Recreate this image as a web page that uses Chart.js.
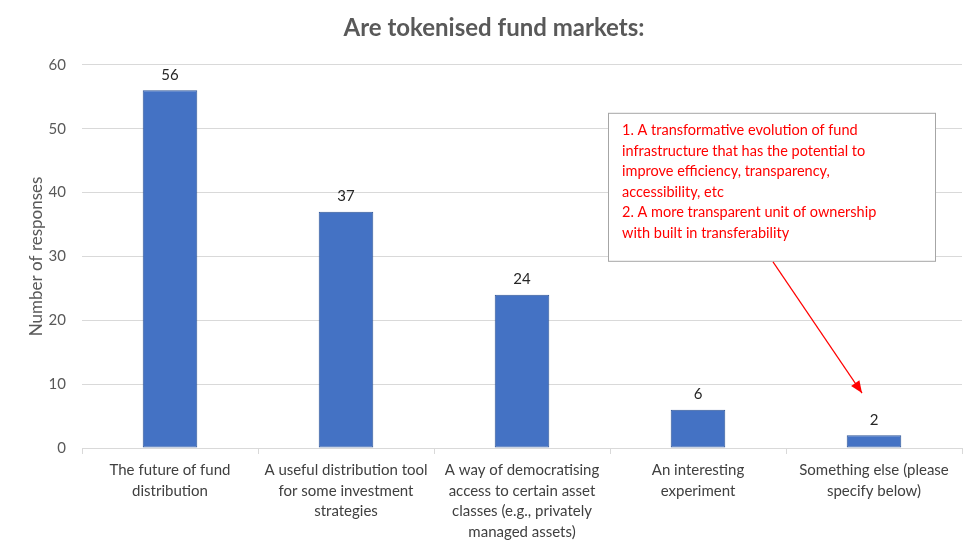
<!DOCTYPE html>
<html>
<head>
<meta charset="utf-8">
<script src="https://cdn.jsdelivr.net/npm/chart.js@4.4.1/dist/chart.umd.min.js"></script>
<style>
  html, body { margin: 0; padding: 0; background: #fff; }
  #wrap { width: 980px; height: 549px; position: relative; }
</style>
</head>
<body>
<div id="wrap"><canvas id="tokenChart"></canvas></div>
<script>
const categories = [
    ['The future of fund', 'distribution'],
    ['A useful distribution tool', 'for some investment', 'strategies'],
    ['A way of democratising', 'access to certain asset', 'classes (e.g., privately', 'managed assets)'],
    ['An interesting', 'experiment'],
    ['Something else (please', 'specify below)']
];
const responses = [56, 37, 24, 6, 2];
const noteLines = [
    '1. A transformative evolution of fund',
    'infrastructure that has the potential to',
    'improve efficiency, transparency,',
    'accessibility, etc',
    '2. A more transparent unit of ownership',
    'with built in transferability'
];

const fontFamily = 'Lato, "Open Sans", sans-serif';
const axisGray = '#595959';

// value labels above bars
const valueLabels = {
    id: 'valueLabels',
    afterDatasetsDraw(chart) {
        const ctx = chart.ctx;
        const meta = chart.getDatasetMeta(0);
        ctx.save();
        ctx.font = '15px ' + fontFamily;
        ctx.fillStyle = '#262626';
        ctx.textAlign = 'center';
        ctx.textBaseline = 'bottom';
        meta.data.forEach((bar, i) => {
            ctx.fillText(responses[i], bar.x, bar.y - 8);
        });
        ctx.restore();
    }
};

// red note box with arrow pointing at the last bar
const noteBox = {
    id: 'noteBox',
    afterDraw(chart) {
        const ctx = chart.ctx;
        const area = chart.chartArea;
        const x = chart.scales.x, y = chart.scales.y;
        const boxL = area.left + 526, boxT = area.top + 48, boxW = 327, boxH = 148;
        ctx.save();
        ctx.fillStyle = '#fff';
        ctx.fillRect(boxL, boxT, boxW, boxH);
        ctx.strokeStyle = '#a6a6a6';
        ctx.lineWidth = 1;
        ctx.strokeRect(boxL + 0.5, boxT + 0.5, boxW, boxH);
        ctx.fillStyle = '#ff0000';
        ctx.font = '14.5px ' + fontFamily;
        ctx.textBaseline = 'middle';
        noteLines.forEach((t, i) => ctx.fillText(t, boxL + 14, boxT + 18 + i * 20.5));

        // arrow
        const sx = boxL + 165, sy = boxT + boxH + 1;
        const ex = x.getPixelForValue(4) - 12, ey = y.getPixelForValue(8.6);
        ctx.strokeStyle = '#ff0000';
        ctx.lineWidth = 1.2;
        ctx.beginPath();
        ctx.moveTo(sx, sy);
        ctx.lineTo(ex, ey);
        ctx.stroke();
        const ang = Math.atan2(ey - sy, ex - sx);
        const hl = 12, hw = 5;
        ctx.fillStyle = '#ff0000';
        ctx.beginPath();
        ctx.moveTo(ex, ey);
        ctx.lineTo(ex - hl * Math.cos(ang) + hw * Math.sin(ang), ey - hl * Math.sin(ang) - hw * Math.cos(ang));
        ctx.lineTo(ex - hl * Math.cos(ang) - hw * Math.sin(ang), ey - hl * Math.sin(ang) + hw * Math.cos(ang));
        ctx.closePath();
        ctx.fill();
        ctx.restore();
    }
};

new Chart(document.getElementById('tokenChart'), {
    type: 'bar',
    data: {
        labels: categories,
        datasets: [{
            data: responses,
            backgroundColor: '#4472c4',
            borderColor: '#2f5597',
            borderWidth: 1,
            borderSkipped: false,
            categoryPercentage: 1,
            barPercentage: 0.31
        }]
    },
    options: {
        responsive: true,
        maintainAspectRatio: false,
        animation: false,
        layout: { padding: { left: 26, right: 18, top: 0, bottom: 0 } },
        plugins: {
            legend: { display: false },
            tooltip: { enabled: false },
            title: {
                display: true,
                text: 'Are tokenised fund markets:',
                color: axisGray,
                font: { family: fontFamily, size: 24, weight: 'bold' },
                padding: { top: 14, bottom: 22 }
            }
        },
        scales: {
            x: {
                grid: { display: true, drawOnChartArea: false, drawTicks: true, tickLength: 6, color: '#d9d9d9', offset: true },
                border: { color: '#d9d9d9' },
                ticks: { color: '#404040', font: { family: fontFamily, size: 15, lineHeight: 1.37 }, maxRotation: 0, autoSkip: false, padding: 6 },
                afterFit(scale) { scale.height = 101; }
            },
            y: {
                min: 0,
                max: 60,
                grid: { color: '#d9d9d9', drawTicks: false },
                border: { display: false },
                ticks: { stepSize: 10, color: axisGray, font: { family: fontFamily, size: 15 }, padding: 16 },
                title: {
                    display: true,
                    text: 'Number of responses',
                    color: axisGray,
                    font: { family: fontFamily, size: 17 },
                    padding: { top: 0, bottom: 0 }
                },
                afterFit(scale) { scale.width = 56; }
            }
        }
    },
    plugins: [valueLabels, noteBox]
});
</script>
</body>
</html>
